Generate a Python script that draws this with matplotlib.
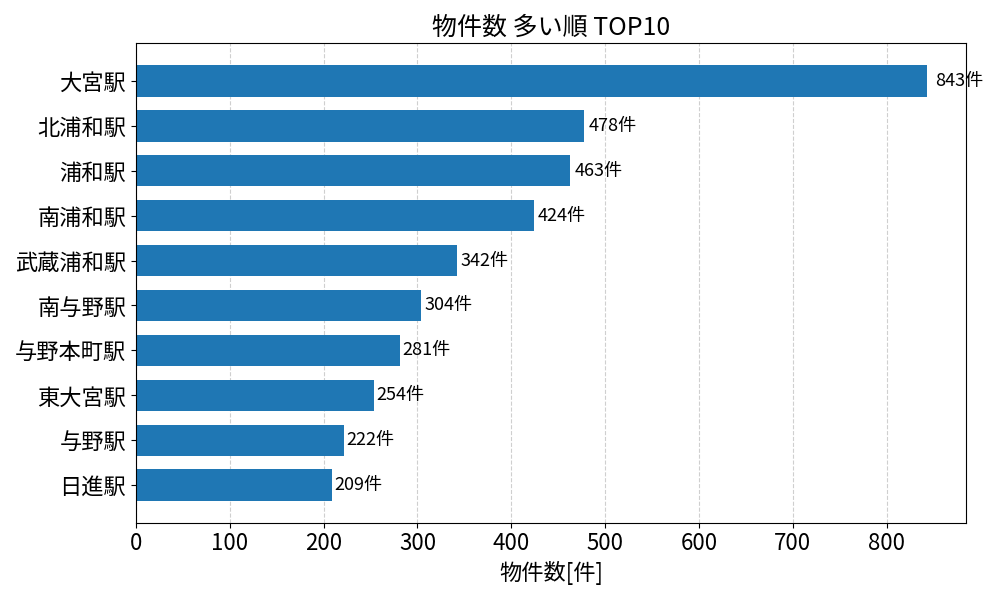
import matplotlib

matplotlib.use("Agg")
import matplotlib.pyplot as plt  # noqa: E402

plt.rcParams["font.family"] = ["Noto Sans CJK JP", "DejaVu Sans"]

stations = ["大宮駅", "北浦和駅", "浦和駅", "南浦和駅", "武蔵浦和駅",
            "南与野駅", "与野本町駅", "東大宮駅", "与野駅", "日進駅"]
counts = [843, 478, 463, 424, 342, 304, 281, 254, 222, 209]

fig, ax = plt.subplots(figsize=(10, 6), dpi=100)
ax.barh(stations[::-1], counts[::-1], height=0.7, color="#1f77b4", zorder=2)
for name, v in zip(stations, counts):
    # label just past the bar end, drawn under the spine like the original
    ax.text(v * 1.01, name, f"{v}件", va="center", ha="left", fontsize=13,
            zorder=1)

ax.set_title("物件数 多い順 TOP10", fontsize=18)
ax.set_xlabel("物件数[件]", fontsize=16)
ax.tick_params(axis="y", labelsize=16)
ax.tick_params(axis="x", labelsize=16)
ax.grid(axis="x", linestyle="--", alpha=0.6, zorder=0)
ax.set_axisbelow(True)

fig.tight_layout()
fig.savefig("out.png")
